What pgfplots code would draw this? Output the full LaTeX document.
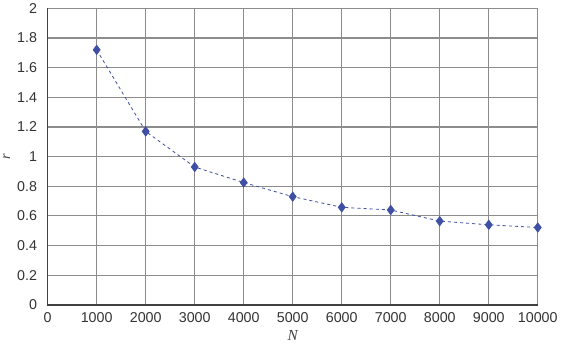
\documentclass[border=0pt]{standalone}
\usepackage{pgfplots}
\pgfplotsset{compat=1.18}
\usepackage{fontspec}
\setmainfont{Liberation Sans}
\newfontfamily\serifit{Liberation Serif}
\definecolor{ptblue}{HTML}{3F4FA3}
\definecolor{gridgray}{HTML}{8C8C8C}

\begin{document}
\begin{tikzpicture}
\begin{axis}[
  scale only axis,
  width=481pt, height=291pt,
  xmin=0, xmax=10000,
  ymin=0, ymax=2,
  xtick={0,1000,...,10000},
  ytick={0,0.2,...,2},
  yticklabels={0,0.2,0.4,0.6,0.8,1,1.2,1.4,1.6,1.8,2},
  scaled x ticks=false,
  x tick label style={yshift=-4pt},
  xticklabel style={/pgf/number format/.cd, fixed, 1000 sep={}},
  /pgf/number format/assume math mode=true,
  tick label style={font=\fontsize{14}{15}\selectfont, text=black!80},
  y tick label style={xshift=-7pt},
  grid=major,
  major grid style={gridgray, line width=1.1pt},
  axis line style={draw=none},
  major tick length=0pt,
  xlabel={\serifit\itshape N},
  ylabel={\serifit\itshape r},
  xlabel style={font=\fontsize{15}{15}\selectfont, yshift=-1pt, text=black!75},
  ylabel style={font=\fontsize{14}{14}\selectfont, yshift=0pt, text=black!75},
  clip=false,
]
\draw[black!75, line width=1.6pt] (axis cs:0,2) -- (axis cs:0,0) -- (axis cs:10000,0);
\addplot[ptblue, dashed, line width=0.8pt, mark=diamond*, mark size=4.5pt,
  mark options={solid, fill=ptblue, draw=ptblue}] coordinates {
  (1000,1.72) (2000,1.17) (3000,0.93) (4000,0.825) (5000,0.73)
  (6000,0.658) (7000,0.64) (8000,0.565) (9000,0.54) (10000,0.522)
};
\end{axis}
\end{tikzpicture}
\end{document}
